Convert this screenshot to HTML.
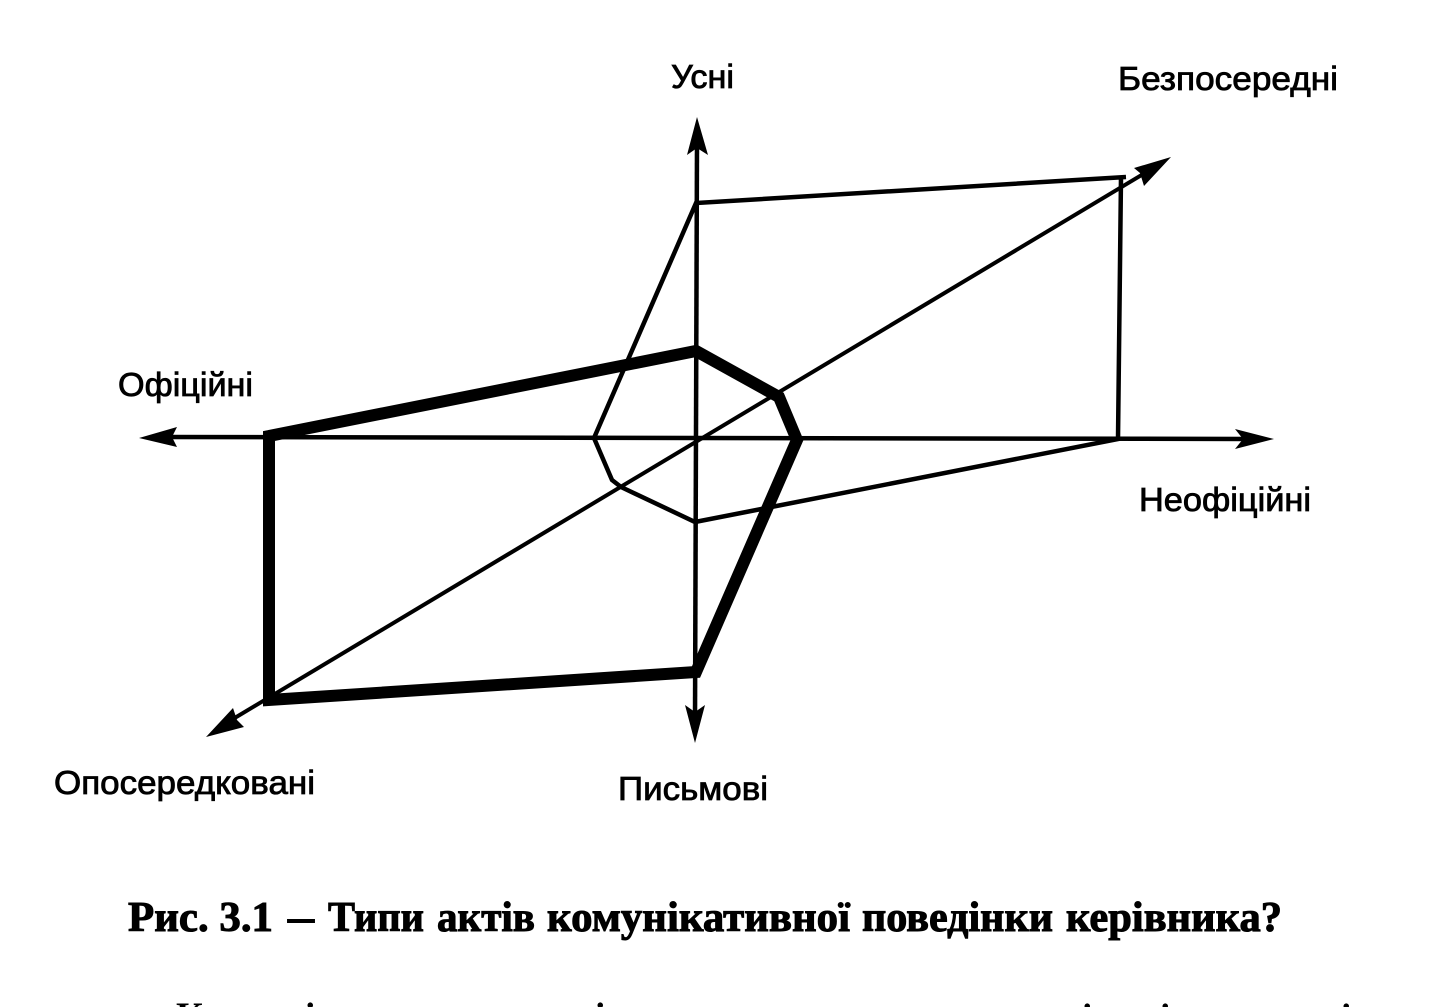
<!DOCTYPE html>
<html lang="uk">
<head>
<meta charset="utf-8">
<title>Рис. 3.1</title>
<style>
html,body{margin:0;padding:0;background:#fff;width:1436px;height:1007px;overflow:hidden}
svg{display:block;position:absolute;left:0;top:0}
text{fill:#000}
.l{font-family:"Liberation Sans",sans-serif;font-size:33px;stroke:#000;stroke-width:.8px}
.c{font-family:"Liberation Serif",serif;font-size:42px;font-weight:bold;stroke:#000;stroke-width:1px}
.b{font-family:"Liberation Serif",serif;font-size:37px;font-weight:bold}
</style>
</head>
<body>
<svg width="1436" height="1007" viewBox="0 0 1436 1007" xmlns="http://www.w3.org/2000/svg">
<rect width="1436" height="1007" fill="#fff"/>
<!-- axes -->
<g stroke="#000" fill="none">
<line x1="160" y1="437" x2="1250" y2="439" stroke-width="4.5"/>
<line x1="697" y1="140" x2="695" y2="720" stroke-width="4.5"/>
<line x1="228" y1="722" x2="1150" y2="170" stroke-width="4"/>
</g>
<!-- arrowheads -->
<g fill="#000">
<polygon points="697,117 708,155 697,148 687,155"/>
<polygon points="695,743 685,705 695,712 705,705"/>
<polygon points="1274,439 1235,429 1243,439 1235,449"/>
<polygon points="139,438 177,427 172,437 177,447"/>
<polygon points="1171,157 1144,186 1140,173 1134,168"/>
<polygon points="206,737 233,708 237,720 244,727"/>
</g>
<!-- thin polygon -->
<polyline points="1126,177 696,203 594,438 612,480 621,487 695,522 1118,439 1121,177" fill="none" stroke="#000" stroke-width="4.5" stroke-linejoin="miter"/>
<!-- thick polygon -->
<polyline points="269,436 696,351 779,397 797,440 696,672 269,700 269,436 696,351" fill="none" stroke="#000" stroke-width="12" stroke-linejoin="miter"/>
<!-- labels -->
<text class="l" x="671" y="88" textLength="63" lengthAdjust="spacingAndGlyphs">Усні</text>
<text class="l" x="1118" y="90" textLength="220" lengthAdjust="spacingAndGlyphs">Безпосередні</text>
<text class="l" x="118" y="396" textLength="135" lengthAdjust="spacingAndGlyphs">Офіційні</text>
<text class="l" x="1139" y="511" textLength="172" lengthAdjust="spacingAndGlyphs">Неофіційні</text>
<text class="l" x="54" y="794" textLength="261" lengthAdjust="spacingAndGlyphs">Опосередковані</text>
<text class="l" x="618" y="800" textLength="150" lengthAdjust="spacingAndGlyphs">Письмові</text>
<!-- caption -->
<text class="c" x="128" y="931" textLength="145" lengthAdjust="spacingAndGlyphs">Рис. 3.1</text>
<text class="c" x="288" y="931" textLength="26" lengthAdjust="spacingAndGlyphs">–</text>
<text class="c" x="328" y="931" textLength="96" lengthAdjust="spacingAndGlyphs">Типи</text>
<text class="c" x="437" y="931" textLength="98" lengthAdjust="spacingAndGlyphs">актів</text>
<text class="c" x="547" y="931" textLength="303" lengthAdjust="spacingAndGlyphs">комунікативної</text>
<text class="c" x="862" y="931" textLength="191" lengthAdjust="spacingAndGlyphs">поведінки</text>
<text class="c" x="1066" y="931" textLength="216" lengthAdjust="spacingAndGlyphs">керівника?</text>
<!-- next line, clipped by the page edge -->
<text class="b" x="176" y="1028">К</text>
<text class="b" x="305" y="1028">і</text>
<text class="b" x="595" y="1028">і</text>
<text class="b" x="1082" y="1029">і</text>
<text class="b" x="1160" y="1029">і</text>
<text class="b" x="1341" y="1029">і</text>
</svg>
</body>
</html>
